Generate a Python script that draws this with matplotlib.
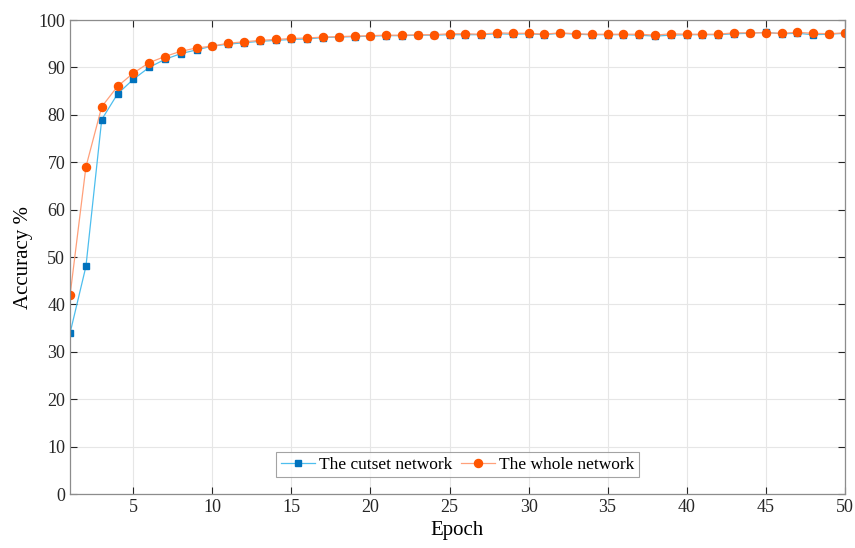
import matplotlib.pyplot as plt

epochs = list(range(1, 51))

# accuracy of the cutset network (blue squares)
cutset_acc = [34.0, 48.0, 79.0, 84.4, 87.5, 90.0, 91.7, 92.9, 93.7, 94.5,
              94.9, 95.2, 95.5, 95.7, 95.9, 96.0, 96.3, 96.4, 96.5, 96.6,
              96.7, 96.7, 96.8, 96.8, 96.9, 96.9, 96.9, 97.1, 97.0, 97.1,
              96.9, 97.2, 97.0, 96.9, 96.9, 96.9, 96.8, 96.6, 96.8, 96.9,
              96.9, 96.9, 97.1, 97.2, 97.4, 97.1, 97.2, 96.9, 97.0, 97.2]

# accuracy of the whole network (orange circles)
whole_acc = [42.0, 69.0, 81.7, 86.0, 88.8, 91.0, 92.3, 93.4, 94.1, 94.5,
             95.1, 95.4, 95.7, 95.9, 96.1, 96.2, 96.4, 96.5, 96.6, 96.7,
             96.8, 96.8, 96.9, 96.9, 97.1, 97.1, 97.0, 97.3, 97.2, 97.2,
             97.0, 97.3, 97.1, 97.0, 97.0, 97.0, 97.0, 96.8, 97.1, 97.0,
             97.0, 97.0, 97.3, 97.3, 97.3, 97.2, 97.4, 97.2, 97.1, 97.3]

plt.rcParams['font.family'] = ['Liberation Serif', 'DejaVu Serif']
plt.rcParams['font.size'] = 13

fig = plt.figure(figsize=(8.55, 5.48), dpi=100)
ax = fig.add_axes([0.082, 0.0985, 0.906, 0.865])

ax.plot(epochs, cutset_acc, color='#4DBEEE', linewidth=0.9, marker='s',
        markersize=4.2, markerfacecolor='#0072BD', markeredgecolor='#0072BD',
        label='The cutset network')
ax.plot(epochs, whole_acc, color='#FFA07A', linewidth=0.9, marker='o',
        markersize=5.8, markerfacecolor='#FF5500', markeredgecolor='#FF5500',
        label='The whole network')

ax.set_xlim(1, 50)
ax.set_ylim(0, 100)
ax.set_xticks(range(5, 51, 5))
ax.set_yticks(range(0, 101, 10))
ax.tick_params(direction='in', length=5, top=True, right=True, colors='#262626',
               labelsize=13)
ax.grid(True, color='#E6E6E6', linewidth=0.8)
ax.set_axisbelow(True)
for s in ax.spines.values():
    s.set_color('#8C8C8C')
    s.set_linewidth(0.9)

ax.set_xlabel('Epoch', fontsize=15)
ax.set_ylabel('Accuracy %', fontsize=15)

leg = ax.legend(loc='lower center', ncol=2, bbox_to_anchor=(0.5, 0.025),
                fancybox=False, edgecolor='#8C8C8C', fontsize=12.5,
                handlelength=2.0, handletextpad=0.2, columnspacing=0.5,
                borderpad=0.25, borderaxespad=0.3)
leg.get_frame().set_linewidth(0.8)

plt.savefig('out.png', dpi=100)
